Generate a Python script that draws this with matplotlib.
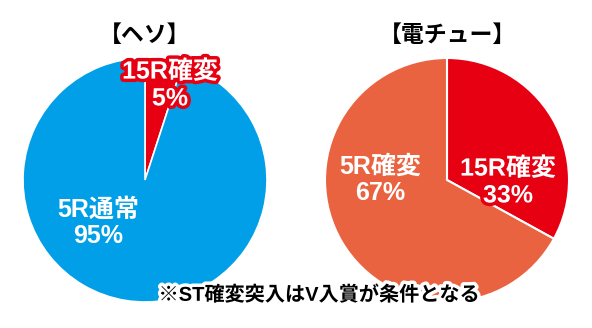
import matplotlib.pyplot as plt
import matplotlib.patheffects as pe

plt.rcParams['font.family'] = ['Liberation Sans', 'Noto Sans CJK JP', 'DejaVu Sans']

# data
heso_labels = ['15R確変', '5R通常']
heso_values = [5, 95]
heso_colors = ['#e60012', '#009fe8']

den_labels = ['15R確変', '5R確変']
den_values = [33, 67]
den_colors = ['#e60012', '#ea6340']

titles = ['【ヘソ】', '【電チュー】']
note = '※ST確変突入はV入賞が条件となる'

fig = plt.figure(figsize=(5.92, 3.28), dpi=100)
ax = fig.add_axes([0, 0, 1, 1])
ax.set_xlim(0, 592)
ax.set_ylim(328, 0)
ax.set_aspect('equal')
ax.axis('off')

# pies (y axis is inverted so go counterclockwise in data = clockwise on screen)
ax.pie(heso_values, colors=heso_colors, startangle=-90, counterclock=True,
       center=(145, 180), radius=122,
       wedgeprops=dict(edgecolor='white', linewidth=1.2))
ax.pie(den_values, colors=den_colors, startangle=-90, counterclock=True,
       center=(447, 180), radius=122,
       wedgeprops=dict(edgecolor='white', linewidth=1.5))
ax.set_xlim(0, 592)
ax.set_ylim(328, 0)

ax.text(145, 35, titles[0], ha='center', va='center', fontsize=16.5,
        fontweight='bold', color='black')
ax.text(447, 35, titles[1], ha='center', va='center', fontsize=16.5,
        fontweight='bold', color='black')

red_stroke = [pe.withStroke(linewidth=5, foreground='#e60012')]
ax.text(170, 85, heso_labels[0] + '\n' + str(heso_values[0]) + '%',
        ha='center', va='center', fontsize=18, fontweight='bold',
        color='white', linespacing=1.15, path_effects=red_stroke)
ax.text(98, 223, heso_labels[1] + '\n' + str(heso_values[1]) + '%',
        ha='center', va='center', fontsize=18, fontweight='bold',
        color='white', linespacing=1.15)
ax.text(508, 182, den_labels[0] + '\n' + str(den_values[0]) + '%',
        ha='center', va='center', fontsize=18, fontweight='bold',
        color='white', linespacing=1.15, path_effects=red_stroke)
ax.text(380, 180, den_labels[1] + '\n' + str(den_values[1]) + '%',
        ha='center', va='center', fontsize=18, fontweight='bold',
        color='white', linespacing=1.15)

ax.text(319, 295, note, ha='center', va='center', fontsize=14.5,
        fontweight='bold', color='black',
        path_effects=[pe.withStroke(linewidth=5, foreground='white')])

fig.savefig('out.png', dpi=100)
